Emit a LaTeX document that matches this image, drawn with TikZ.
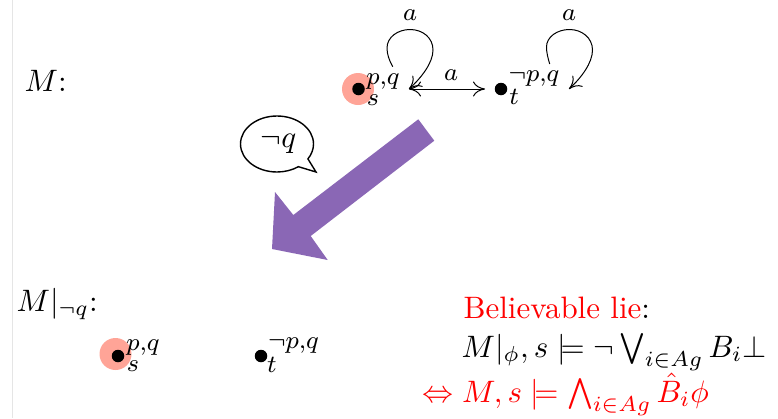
\documentclass[tikz,border=0pt]{standalone}
\usepackage{amsmath,amssymb,graphicx}
\usetikzlibrary{shapes.callouts,shapes.geometric,arrows.meta}
\definecolor{lumpurple}{HTML}{8A67B5}
\definecolor{pointed}{HTML}{FFA497}
\tikzset{
  big/.style={inner sep=0pt,anchor=base west,scale=3.1},
  small/.style={inner sep=0pt,scale=3.1,font=\footnotesize},
  world/.style={circle,fill=black,minimum size=12.5pt,inner sep=0pt},
  halo/.style={circle,fill=pointed,minimum size=32pt,inner sep=0pt},
  rel/.style={line width=1pt,-{To[length=12pt,width=15pt]}},
  relb/.style={line width=1pt,{To[length=12pt,width=15pt]}-{To[length=12pt,width=15pt]}}
}
\begin{document}
\begin{tikzpicture}[x=1pt,y=-1pt]
\useasboundingbox (0,0) rectangle (778,418);
\coordinate (rule top) at (12.5,0);
\coordinate (rule bottom) at (12.5,418);
\draw[black!10,line width=1pt] (rule top) -- (rule bottom);

\node[big] (mtop) at (24,91) {$M$:};
\node[big] (mbot) at (16,311) {$M|_{\neg q}$:};

% top model
\node[halo] (hs) at (358,89) {};
\node[world] (s) at (358.5,89) {};
\node[world] (t) at (501,89) {};
\node[small] (spq) at (383,82) {$p{,}q$};
\node[small] (ss) at (373,100) {$s$};
\node[small] (tpq) at (534,79) {$\neg p{,}q$};
\node[small] (tt) at (514,97) {$t$};
\coordinate (sr) at (409,89);
\coordinate (tl) at (485,89);
\coordinate (ls1) at (392.7,66.7);
\coordinate (ls2) at (569,89);
\coordinate (rs1) at (549.7,64);
\draw[relb] (sr) -- (tl);
\node[small] (aa) at (451,75) {$a$};
\draw[rel] (ls1) .. controls (389,60) and (387,54) .. (387,48)
  .. controls (387,37) and (398,29.5) .. (410,29.5)
  .. controls (423,29.5) and (433,38) .. (433,50)
  .. controls (433,63) and (421,78) .. (sr);
\draw[rel] (rs1) .. controls (548,58) and (546.5,53) .. (546.5,47)
  .. controls (546.5,37) and (557,29.5) .. (569.5,29.5)
  .. controls (582,29.5) and (592.5,38) .. (592.5,50)
  .. controls (592.5,63) and (581,78) .. (ls2);
\node[small] (al) at (410,15) {$a$};
\node[small] (ar) at (569,15) {$a$};

% bubble
\node[ellipse callout,draw,line width=1.4pt,minimum width=73pt,minimum height=56pt,inner sep=0pt,
  callout pointer arc=22,callout absolute pointer={(316,172)}] (bub) at (277,144) {\hspace{3pt}\scalebox{3.1}{$\neg q$}};

% update arrow
\fill[lumpurple] (418.3,119.3) -- (434.3,140.7) -- (310.7,236) -- (327.7,260) -- (272,249) -- (275,192) -- (293.3,215) -- cycle;

% bottom model
\node[halo] (hs2) at (115.5,354) {};
\node[world] (s2) at (118,356) {};
\node[world] (t2) at (261,356) {};
\node[small] (spq2) at (143,348) {$p{,}q$};
\node[small] (ss2) at (133,366) {$s$};
\node[small] (tpq2) at (293.5,346) {$\neg p{,}q$};
\node[small] (tt2) at (272,365) {$t$};

% text
\node[big] (l1) at (463,318) {\textcolor{red}{Believable lie}:};
\node[big] (l2) at (461,357) {$M|_\phi,s\models\neg\bigvee_{i\in Ag}B_i\bot$};
\node[big,text=red] (l3) at (422,402) {$\Leftrightarrow M,s\models\bigwedge_{i\in Ag}\hat{B}_i\phi$};
\end{tikzpicture}
\end{document}
